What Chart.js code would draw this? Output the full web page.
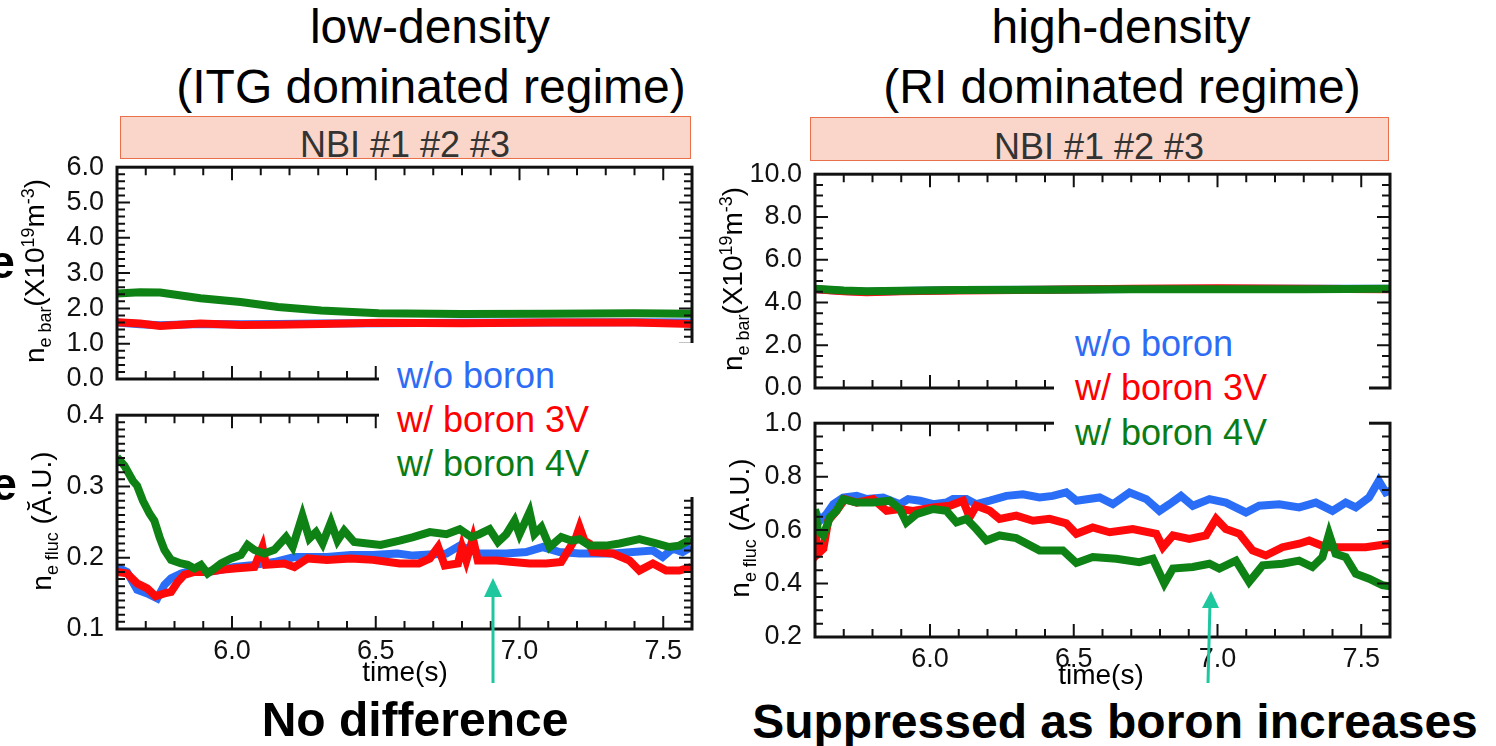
<!DOCTYPE html>
<html lang="en">
<head>
    <meta charset="UTF-8">
    <title>Boron density / fluctuation</title>
    <script src="https://cdn.jsdelivr.net/npm/chart.js"></script>
    <style>
        body { margin: 0; width: 1496px; height: 746px; background: #fff; position: relative; overflow: hidden;
               font-family: 'Liberation Sans', Arial, sans-serif; color: #000; }
        canvas { position: absolute; }
        .t { position: absolute; white-space: nowrap; line-height: 1; transform: translate(-50%, -50%); }
        .l { position: absolute; white-space: nowrap; line-height: 1; transform: translateY(-50%); font-size: 36px; }
        .rot { position: absolute; white-space: nowrap; line-height: 1; font-size: 28px;
               transform: translate(-50%, -50%) rotate(-90deg); }
        .rot sub, .rot sup { font-size: 64%; }
        .nbi { position: absolute; background: #fad6ca; border: 1.5px solid #ea6f4b; box-sizing: border-box; }
        .box { position: absolute; background: #fff; }
    </style>
</head>
<body>
    <div class="t" style="left:430px;top:27px;font-size:48px">low-density</div>
    <div class="t" style="left:431px;top:87px;font-size:48px">(ITG dominated regime)</div>
    <div class="t" style="left:1121px;top:27px;font-size:48px">high-density</div>
    <div class="t" style="left:1122px;top:87px;font-size:48px">(RI dominated regime)</div>

    <div class="nbi" style="left:120px;top:116px;width:571px;height:43px"></div>
    <div class="nbi" style="left:810px;top:117px;width:579px;height:44px"></div>
    <div class="t" style="left:405px;top:145px;font-size:36px;color:#333">NBI #1 #2 #3</div>
    <div class="t" style="left:1099px;top:147px;font-size:36px;color:#333">NBI #1 #2 #3</div>

    <canvas id="lowNe" width="702" height="286" style="left:0;top:138px"></canvas>
    <canvas id="lowFluc" width="702" height="288" style="left:0;top:386px"></canvas>
    <canvas id="highNe" width="700" height="288" style="left:700px;top:145px"></canvas>
    <canvas id="highFluc" width="700" height="288" style="left:700px;top:394px"></canvas>

    <!-- legend boxes sit over the frames, like in the slide -->
    <div class="box" style="left:379px;top:343px;width:322px;height:154px"></div>
    <div class="l" style="left:397px;top:376px;color:#2f6cf6">w/o boron</div>
    <div class="l" style="left:397px;top:420px;color:#ff0000">w/ boron 3V</div>
    <div class="l" style="left:397px;top:464px;color:#0b7c14">w/ boron 4V</div>

    <div class="box" style="left:1054px;top:322px;width:315px;height:135px"></div>
    <div class="l" style="left:1075px;top:344px;color:#2f6cf6">w/o boron</div>
    <div class="l" style="left:1075px;top:388px;color:#ff0000">w/ boron 3V</div>
    <div class="l" style="left:1075px;top:433px;color:#0b7c14">w/ boron 4V</div>

    <div class="rot" style="left:37px;top:271px">n<sub>e bar</sub>(X10<sup>19</sup>m<sup>-3</sup>)</div>
    <div class="rot" style="left:45px;top:521px">n<sub>e fluc</sub> (Ă.U.)</div>
    <div class="rot" style="left:735px;top:279px">n<sub>e bar</sub>(X10<sup>19</sup>m<sup>-3</sup>)</div>
    <div class="rot" style="left:743px;top:528px">n<sub>e fluc</sub> (A.U.)</div>
    <div class="t" style="left:2px;top:262px;font-size:46px;font-weight:bold">e</div>
    <div class="t" style="left:4px;top:484px;font-size:46px;font-weight:bold">e</div>

    <div class="t" style="left:405px;top:672px;font-size:28px">time(s)</div>
    <div class="t" style="left:1101px;top:675px;font-size:28px">time(s)</div>

    <div class="t" style="left:415px;top:720px;font-size:48px;font-weight:bold">No difference</div>
    <div class="t" style="left:1115px;top:722px;font-size:48px;font-weight:bold">Suppressed as boron increases</div>

    <svg width="1496" height="746" style="position:absolute;left:0;top:0">
        <line x1="493" y1="683" x2="493" y2="592" stroke="#1fc79e" stroke-width="3"/>
        <polygon points="493,578 484,597 502,597" fill="#1fc79e"/>
        <line x1="1208" y1="683" x2="1210" y2="602" stroke="#1fc79e" stroke-width="3"/>
        <polygon points="1211,591 1202,608 1219,608" fill="#1fc79e"/>
    </svg>

    <script>
        // ---- data ----
        var xTickLabels = [6.0, 6.5, 7.0, 7.5];
        var lowNeTicks = [0, 1, 2, 3, 4, 5, 6];
        var lowFlucTicks = [0.1, 0.2, 0.3, 0.4];
        var highNeTicks = [0, 2, 4, 6, 8, 10];
        var highFlucTicks = [0.2, 0.4, 0.6, 0.8, 1.0];

        // low density, line-averaged density
        var lowNeTime = [5.60, 5.68, 5.75, 5.89, 6.03, 6.16, 6.31, 6.51, 6.80, 7.10, 7.40, 7.60];
        var lowNeBlue = [1.60, 1.55, 1.52, 1.56, 1.55, 1.56, 1.57, 1.58, 1.59, 1.60, 1.61, 1.60];
        var lowNeRed = [1.61, 1.57, 1.50, 1.57, 1.53, 1.54, 1.56, 1.59, 1.58, 1.60, 1.60, 1.56];
        var lowNeGreen = [2.42, 2.46, 2.45, 2.29, 2.18, 2.04, 1.94, 1.86, 1.84, 1.85, 1.86, 1.85];

        // low density, fluctuation
        var lowFlucBlueT = [5.600, 5.635, 5.670, 5.705, 5.740, 5.765, 5.788, 5.823, 5.869, 5.915, 5.962, 6.008, 6.078, 6.147, 6.217, 6.263, 6.330, 6.413, 6.490, 6.575, 6.630, 6.746, 6.792, 6.860, 6.954, 7.023, 7.081, 7.139, 7.209, 7.267, 7.325, 7.394, 7.464, 7.498, 7.533, 7.567, 7.597];
        var lowFlucBlue = [0.187, 0.180, 0.155, 0.150, 0.143, 0.162, 0.171, 0.178, 0.183, 0.180, 0.183, 0.187, 0.190, 0.194, 0.201, 0.201, 0.201, 0.204, 0.204, 0.206, 0.203, 0.206, 0.217, 0.206, 0.206, 0.208, 0.215, 0.208, 0.206, 0.206, 0.206, 0.208, 0.210, 0.201, 0.213, 0.208, 0.215];
        var lowFlucRedT = [5.600, 5.635, 5.670, 5.705, 5.734, 5.765, 5.788, 5.811, 5.834, 5.869, 5.915, 5.962, 6.008, 6.078, 6.106, 6.118, 6.182, 6.217, 6.263, 6.330, 6.413, 6.490, 6.583, 6.650, 6.688, 6.717, 6.740, 6.786, 6.800, 6.815, 6.838, 6.855, 6.920, 6.977, 7.035, 7.093, 7.145, 7.174, 7.197, 7.209, 7.226, 7.243, 7.255, 7.325, 7.383, 7.417, 7.464, 7.510, 7.556, 7.597];
        var lowFlucRed = [0.180, 0.178, 0.164, 0.157, 0.146, 0.150, 0.152, 0.166, 0.176, 0.180, 0.180, 0.183, 0.185, 0.187, 0.215, 0.190, 0.192, 0.187, 0.199, 0.197, 0.199, 0.197, 0.192, 0.192, 0.199, 0.215, 0.189, 0.192, 0.215, 0.196, 0.227, 0.196, 0.196, 0.194, 0.192, 0.192, 0.194, 0.213, 0.229, 0.243, 0.224, 0.220, 0.208, 0.206, 0.196, 0.182, 0.192, 0.182, 0.182, 0.187];
        var lowFlucGreenT = [5.600, 5.626, 5.655, 5.670, 5.690, 5.713, 5.730, 5.748, 5.765, 5.788, 5.823, 5.846, 5.869, 5.892, 5.915, 5.939, 5.962, 5.997, 6.031, 6.054, 6.078, 6.112, 6.147, 6.188, 6.211, 6.245, 6.269, 6.292, 6.315, 6.344, 6.367, 6.390, 6.425, 6.471, 6.517, 6.583, 6.630, 6.688, 6.746, 6.792, 6.832, 6.860, 6.896, 6.925, 6.954, 6.983, 7.000, 7.035, 7.052, 7.076, 7.105, 7.145, 7.180, 7.209, 7.243, 7.301, 7.348, 7.417, 7.475, 7.521, 7.556, 7.597];
        var lowFlucGreen = [0.341, 0.329, 0.308, 0.301, 0.280, 0.262, 0.252, 0.229, 0.211, 0.197, 0.192, 0.190, 0.185, 0.190, 0.178, 0.185, 0.192, 0.199, 0.204, 0.218, 0.211, 0.206, 0.211, 0.229, 0.215, 0.259, 0.227, 0.236, 0.220, 0.250, 0.224, 0.238, 0.222, 0.220, 0.218, 0.224, 0.229, 0.236, 0.233, 0.240, 0.229, 0.233, 0.240, 0.222, 0.233, 0.252, 0.233, 0.264, 0.233, 0.243, 0.215, 0.229, 0.224, 0.226, 0.217, 0.217, 0.220, 0.226, 0.220, 0.215, 0.217, 0.226];

        // high density, line-averaged density
        var highNeTime = [5.60, 5.70, 5.78, 5.90, 6.10, 6.40, 6.70, 7.00, 7.30, 7.60];
        var highNeBlue = [4.62, 4.54, 4.50, 4.54, 4.58, 4.60, 4.63, 4.64, 4.64, 4.64];
        var highNeRed = [4.62, 4.52, 4.48, 4.52, 4.56, 4.60, 4.64, 4.66, 4.64, 4.62];
        var highNeGreen = [4.64, 4.56, 4.52, 4.55, 4.58, 4.60, 4.62, 4.62, 4.62, 4.64];

        // high density, fluctuation
        var highFlucBlueT = [5.600, 5.617, 5.640, 5.664, 5.698, 5.745, 5.780, 5.837, 5.895, 5.924, 5.965, 6.011, 6.057, 6.080, 6.127, 6.161, 6.208, 6.266, 6.323, 6.381, 6.427, 6.474, 6.509, 6.590, 6.636, 6.694, 6.752, 6.798, 6.833, 6.873, 6.914, 6.972, 7.029, 7.099, 7.145, 7.215, 7.284, 7.342, 7.400, 7.446, 7.481, 7.527, 7.561, 7.585, 7.600];
        var highFlucBlue = [0.672, 0.635, 0.660, 0.697, 0.722, 0.728, 0.716, 0.722, 0.697, 0.716, 0.710, 0.697, 0.703, 0.716, 0.716, 0.697, 0.710, 0.728, 0.734, 0.722, 0.728, 0.741, 0.710, 0.722, 0.697, 0.741, 0.716, 0.672, 0.697, 0.728, 0.691, 0.716, 0.703, 0.666, 0.691, 0.697, 0.685, 0.703, 0.672, 0.703, 0.685, 0.722, 0.784, 0.741, 0.747];
        var highFlucRedT = [5.600, 5.610, 5.629, 5.646, 5.675, 5.704, 5.745, 5.802, 5.849, 5.895, 5.941, 6.011, 6.069, 6.115, 6.138, 6.161, 6.208, 6.242, 6.300, 6.358, 6.416, 6.474, 6.509, 6.566, 6.625, 6.705, 6.787, 6.810, 6.845, 6.902, 6.960, 6.995, 7.029, 7.076, 7.122, 7.168, 7.226, 7.284, 7.319, 7.377, 7.458, 7.515, 7.600];
        var highFlucRed = [0.610, 0.511, 0.530, 0.635, 0.672, 0.716, 0.703, 0.716, 0.672, 0.679, 0.672, 0.685, 0.691, 0.710, 0.648, 0.691, 0.672, 0.642, 0.654, 0.635, 0.642, 0.625, 0.586, 0.610, 0.592, 0.604, 0.586, 0.536, 0.580, 0.567, 0.580, 0.642, 0.604, 0.586, 0.524, 0.505, 0.536, 0.549, 0.561, 0.536, 0.536, 0.536, 0.549];
        var highFlucGreenT = [5.600, 5.610, 5.629, 5.652, 5.675, 5.698, 5.745, 5.802, 5.860, 5.895, 5.918, 5.953, 6.011, 6.057, 6.092, 6.127, 6.161, 6.196, 6.242, 6.300, 6.381, 6.462, 6.509, 6.566, 6.648, 6.728, 6.775, 6.815, 6.845, 6.914, 6.972, 7.006, 7.064, 7.110, 7.157, 7.226, 7.284, 7.330, 7.365, 7.388, 7.411, 7.446, 7.481, 7.527, 7.573, 7.600];
        var highFlucGreen = [0.679, 0.598, 0.580, 0.648, 0.672, 0.716, 0.703, 0.703, 0.710, 0.679, 0.629, 0.660, 0.679, 0.672, 0.629, 0.642, 0.604, 0.561, 0.580, 0.570, 0.524, 0.524, 0.477, 0.499, 0.493, 0.480, 0.493, 0.400, 0.456, 0.462, 0.474, 0.456, 0.486, 0.406, 0.468, 0.474, 0.486, 0.462, 0.499, 0.586, 0.511, 0.499, 0.437, 0.418, 0.394, 0.390];

        var BLUE = '#2a6ef8', RED = '#ff0a0a', GREEN = '#0f8215';
        var FONT = "'Liberation Sans', Arial, sans-serif";

        // frame + inward ticks on all four sides
        var framePlugin = {
            id: 'frame',
            afterDraw: function(chart, args, o) {
                var ctx = chart.ctx, a = chart.chartArea, x = chart.scales.x, y = chart.scales.y;
                ctx.save();
                ctx.strokeStyle = '#111';
                ctx.lineWidth = 2;
                ctx.beginPath();
                for (var k = 1; k < 20; k++) {
                    var px = x.getPixelForValue(5.6 + k * 0.1);
                    var len = ((k + 1) % 5 === 0) ? 13 : 8;
                    ctx.moveTo(px, a.bottom); ctx.lineTo(px, a.bottom - len);
                    ctx.moveTo(px, a.top); ctx.lineTo(px, a.top + len);
                }
                var n = Math.round((o.max - o.min) / o.minor);
                for (var j = 1; j < n; j++) {
                    var py = y.getPixelForValue(o.min + j * o.minor);
                    var l2 = (j % o.every === 0) ? 13 : 8;
                    ctx.moveTo(a.left, py); ctx.lineTo(a.left + l2, py);
                    ctx.moveTo(a.right, py); ctx.lineTo(a.right - l2, py);
                }
                ctx.stroke();
                ctx.lineWidth = 3;
                ctx.strokeRect(a.left, a.top, a.right - a.left, a.bottom - a.top);
                ctx.restore();
            }
        };

        function series(t, v, color) {
            return {
                data: t.map(function(tt, i) { return { x: tt, y: v[i] }; }),
                borderColor: color, borderWidth: 8, pointRadius: 0, tension: 0,
                borderJoinStyle: 'miter', fill: false
            };
        }

        // yAxisWidth puts the plot's left edge where it sits on the slide
        function makePanel(id, yAxisWidth, yMin, yMax, yTicks, minor, every, showX, datasets) {
            return new Chart(document.getElementById(id).getContext('2d'), {
                type: 'line',
                data: { datasets: datasets },
                options: {
                    responsive: false,
                    animation: false,
                    layout: { padding: { top: 20, right: 10, left: 0, bottom: 0 } },
                    plugins: {
                        legend: { display: false },
                        tooltip: { enabled: false },
                        frame: { min: yMin, max: yMax, minor: minor, every: every }
                    },
                    scales: {
                        x: {
                            type: 'linear', min: 5.6, max: 7.6,
                            grid: { display: false, drawTicks: false }, border: { display: false },
                            ticks: { display: showX, padding: 6, autoSkip: false, maxRotation: 0, color: '#111',
                                     font: { family: FONT, size: 27 },
                                     callback: function(v) { return v.toFixed(1); } },
                            afterBuildTicks: function(s) { s.ticks = xTickLabels.map(function(v) { return { value: v }; }); },
                            afterFit: function(s) { s.height = 45; }
                        },
                        y: {
                            min: yMin, max: yMax,
                            grid: { display: false, drawTicks: false }, border: { display: false },
                            ticks: { padding: 13, autoSkip: false, color: '#111',
                                     font: { family: FONT, size: 27 },
                                     callback: function(v) { return v.toFixed(1); } },
                            afterBuildTicks: function(s) { s.ticks = yTicks.map(function(v) { return { value: v }; }); },
                            afterFit: function(s) { s.width = yAxisWidth; }
                        }
                    }
                },
                plugins: [framePlugin]
            });
        }

        // first dataset is painted last (on top)
        makePanel('lowNe', 117, 0, 6, lowNeTicks, 0.2, 5, false, [
            series(lowNeTime, lowNeGreen, GREEN),
            series(lowNeTime, lowNeRed, RED),
            series(lowNeTime, lowNeBlue, BLUE)
        ]);
        makePanel('lowFluc', 117, 0.1, 0.4, lowFlucTicks, 0.01, 10, true, [
            series(lowFlucGreenT, lowFlucGreen, GREEN),
            series(lowFlucRedT, lowFlucRed, RED),
            series(lowFlucBlueT, lowFlucBlue, BLUE)
        ]);
        makePanel('highNe', 115, 0, 10, highNeTicks, 0.5, 4, false, [
            series(highNeTime, highNeGreen, GREEN),
            series(highNeTime, highNeRed, RED),
            series(highNeTime, highNeBlue, BLUE)
        ]);
        makePanel('highFluc', 115, 0.2, 1.0, highFlucTicks, 0.05, 4, true, [
            series(highFlucGreenT, highFlucGreen, GREEN),
            series(highFlucRedT, highFlucRed, RED),
            series(highFlucBlueT, highFlucBlue, BLUE)
        ]);
    </script>
</body>
</html>
